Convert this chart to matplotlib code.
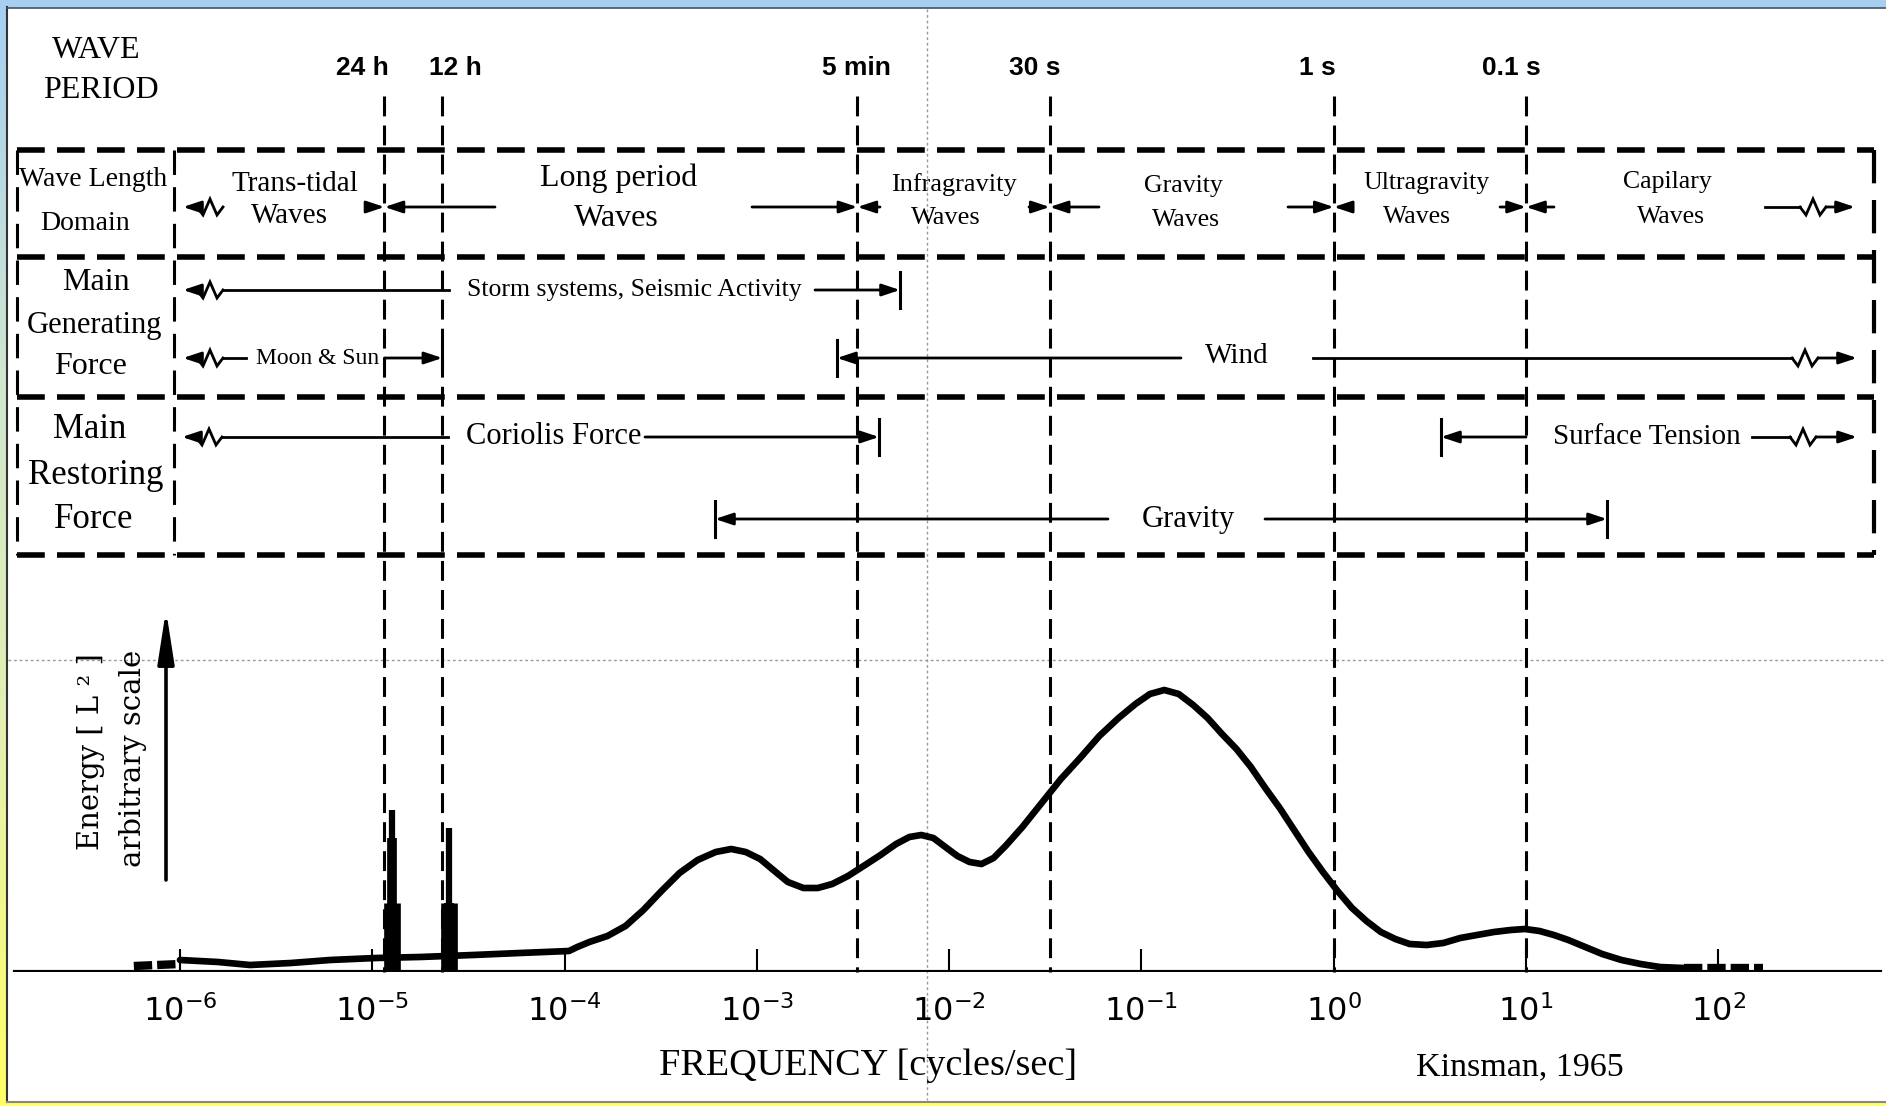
import numpy as np
import matplotlib.pyplot as plt
from matplotlib.patches import Rectangle
from matplotlib.colors import LinearSegmentedColormap

W, H = 1886, 1106
SERIF = 'Liberation Serif'

# period markers drawn as dashed verticals
period_labels = ['24 h', '12 h', '5 min', '30 s', '1 s', '0.1 s']
period_seconds = [86400, 43200, 300, 30, 1, 0.1]
period_label_x = [362, 455, 856, 1035, 1317, 1511]

# decades on the frequency axis
decades = [-6, -5, -4, -3, -2, -1, 0, 1, 2]

# energy spectrum (Kinsman, 1965), log10 frequency [Hz] vs energy (arbitrary)
spec_logf = [-6.000, -5.802, -5.636, -5.423, -5.220, -4.981, -4.752, -4.476,
             -4.232, -3.977, -3.934, -3.871, -3.777, -3.683, -3.590, -3.496,
             -3.402, -3.308, -3.214, -3.133, -3.058, -2.983, -2.902, -2.839,
             -2.758, -2.683, -2.608, -2.526, -2.445, -2.357, -2.276, -2.207,
             -2.145, -2.082, -2.020, -1.957, -1.894, -1.832, -1.769, -1.707,
             -1.619, -1.519, -1.419, -1.319, -1.219, -1.119, -1.031, -0.956,
             -0.881, -0.806, -0.731, -0.656, -0.581, -0.506, -0.431, -0.356,
             -0.281, -0.206, -0.131, -0.056, 0.020, 0.095, 0.170, 0.245,
             0.320, 0.395, 0.483, 0.570, 0.658, 0.745, 0.833, 0.920,
             0.995, 1.070, 1.145, 1.220, 1.308, 1.396, 1.496, 1.596,
             1.696, 1.821]
spec_energy = [12, 10, 7, 9, 12, 14, 15, 17,
               19, 21, 25, 30, 36, 46, 62, 81,
               99, 112, 120, 123, 120, 113, 100, 90,
               84, 84, 88, 96, 106, 117, 128, 135,
               137, 134, 125, 116, 110, 108, 114, 126,
               145, 169, 193, 214, 236, 254, 268, 278,
               282, 278, 267, 254, 238, 223, 205, 184,
               164, 142, 120, 100, 81, 64, 51, 40,
               33, 28, 27, 29, 34, 37, 40, 42,
               43, 41, 37, 32, 25, 18, 12, 8,
               5, 4]
# dashed ends of the spectrum
head_logf = [-6.24, -6.0]
head_energy = [6, 8]
tail_logf = [1.821, 2.23]
tail_energy = [4, 4]

# tidal lines (diurnal, semidiurnal)
tide_logf = [-4.90, -4.60]
tide_block = [69, 69]
tide_mid = [134, 69]
tide_top = [162, 144]

fig = plt.figure(figsize=(W / 100, H / 100), dpi=100)
fig.patch.set_facecolor('white')

# pixel layer for layout
bg = fig.add_axes([0, 0, 1, 1])
bg.set_xlim(0, W)
bg.set_ylim(H, 0)
bg.axis('off')

# frequency layer, rows in pixels
ax = fig.add_axes([0, 0, 1, 1])
ax.set_xscale('log')
ax.set_xlim(10 ** -6.936, 10 ** 2.872)
ax.set_ylim(H, 0)
ax.axis('off')
ax.patch.set_alpha(0)

# spectrum layer, baseline at pixel row 972
ax2 = fig.add_axes([0, (H - 972) / H, 1, 300 / H])
ax2.set_xscale('log')
ax2.set_xlim(10 ** -6.936, 10 ** 2.872)
ax2.set_ylim(0, 300)
ax2.axis('off')
ax2.patch.set_alpha(0)


def px(f):
    return ax.transData.transform((f, 1.0))[0]


# frame decoration
grad = np.linspace(0, 1, 200)[:, None]
cm = LinearSegmentedColormap.from_list('side', ['#a6cff2', '#cfe6d0', '#e4f0b0', '#ffff66'])
bg.imshow(grad, cmap=cm, extent=(0, 7, H, 0), aspect='auto', zorder=0)
bg.add_patch(Rectangle((0, 0), W, 7, color='#a6cff2', zorder=0))
bg.add_patch(Rectangle((0, 1103), W, 3, color='#ffff66', zorder=0))
bg.plot([7, 7], [7, 1102], color='#333333', lw=1.5)
bg.plot([7, W], [7.5, 7.5], color='#445566', lw=1.2)
bg.plot([7, W], [1102, 1102], color='#888888', lw=1.5)

# guide lines
bg.plot([8, W], [660, 660], color='#999999', lw=1, ls=(0, (2, 2)), zorder=0)
bg.plot([927, 927], [9, 1100], color='#999999', lw=1, ls=(0, (2, 2)), zorder=0)

# dashed table
for yy in [150, 257, 397, 555]:
    bg.plot([17, 1874], [yy, yy], color='k', lw=4, ls=(0, (5, 2.2)))
for xx, lw in [(17, 2.2), (174, 2.2), (1874, 3)]:
    bg.plot([xx, xx], [150, 555], color='k', lw=lw, ls=(0, (8, 4)))

# period lines
for s in period_seconds:
    ax.plot([1 / s, 1 / s], [96, 972], color='k', lw=2.2, ls=(0, (6.5, 3)))

for lab, x in zip(period_labels, period_label_x):
    bg.text(x, 68, lab, ha='center', va='center', fontsize=19,
            fontweight='bold', family='Liberation Sans')


def txt(x, y, s, size):
    bg.text(x, y, s, ha='center', va='center', fontsize=size, family=SERIF)


txt(96, 50, 'WAVE', 23)
txt(101, 90, 'PERIOD', 23)
txt(93, 180, 'Wave Length', 20)
txt(85, 223, 'Domain', 20)
txt(96, 283, 'Main', 23)
txt(95, 325, 'Generating', 22)
txt(91, 366, 'Force', 23)
txt(90, 430, 'Main', 25)
txt(96, 476, 'Restoring', 25)
txt(94, 520, 'Force', 25)

txt(295, 184, 'Trans-tidal', 21)
txt(289, 216, 'Waves', 21)
txt(619, 178, 'Long period', 23)
txt(616, 218, 'Waves', 23)
txt(954, 185, 'Infragravity', 19)
txt(946, 218, 'Waves', 19)
txt(1183, 186, 'Gravity', 18.5)
txt(1186, 220, 'Waves', 18.5)
txt(1426, 183, 'Ultragravity', 18.5)
txt(1417, 217, 'Waves', 18.5)
txt(1667, 182, 'Capilary', 18.5)
txt(1671, 217, 'Waves', 18.5)

txt(634, 290, 'Storm systems, Seismic Activity', 18.5)
txt(318, 358, 'Moon & Sun', 17)
txt(1237, 356, 'Wind', 21)
txt(554, 437, 'Coriolis Force', 22)
txt(1188, 519, 'Gravity', 22)
txt(1647, 437, 'Surface Tension', 21)


def arrow(x0, x1, y):
    bg.annotate('', xy=(x1, y), xytext=(x0, y),
                arrowprops=dict(arrowstyle='-|>,head_length=0.9,head_width=0.3',
                                lw=2, color='k', shrinkA=0, shrinkB=0,
                                mutation_scale=12))


def line(x0, x1, y):
    bg.plot([x0, x1], [y, y], color='k', lw=2)


def bar(x, y, h=18):
    bg.plot([x, x], [y - h, y + h], color='k', lw=2.2)


def zig(x0, y, sign=1):
    dx = np.array([0, 6, 13, 20, 26])
    dy = np.array([0, 8, -8, 8, 0])
    bg.plot(x0 + sign * dx, y + dy, color='k', lw=2, solid_joinstyle='miter')


def zig_left(tip, y, tail=None):
    arrow(tip + 15, tip, y)
    zig(tip + 14, y)
    if tail is not None:
        line(tip + 40, tail, y)


def zig_right(start, zx, tip, y):
    line(start, zx, y)
    zig(zx, y)
    arrow(zx + 26, tip, y)


p = {s: px(1 / s) for s in period_seconds}

# wave length domain
y1 = 207
zig_left(183, y1)
for s, tl, tr in [(86400, 370, 495), (300, 752, 880), (30, 1029, 1099),
                  (1, 1288, 1352), (0.1, 1500, 1554)]:
    arrow(tl, p[s], y1)
    arrow(tr, p[s], y1)
zig_right(1765, 1800, 1855, y1)

# generating force
zig_left(183, 290, 449)
arrow(815, 900, 290)
bar(900, 290)
zig_left(183, 358, 246)
arrow(p[86400], p[43200], 358)
bar(p[43200], 358, 12)
bar(837, 358)
arrow(1181, 837, 358)
zig_right(1313, 1792, 1857, 358)

# restoring force
zig_left(182, 437, 448)
arrow(645, 879, 437)
bar(879, 437)
bar(715, 519)
arrow(1108, 715, 519)
arrow(1265, 1607, 519)
bar(1607, 519)
bar(1441, 437)
arrow(1526, 1441, 437)
zig_right(1752, 1790, 1857, 437)

# spectrum
f = 10.0 ** np.array(spec_logf)
ax2.plot([10 ** -6.86, 10 ** 2.84], [0, 0], color='k', lw=3)
ax2.vlines(10.0 ** np.array(decades), 0, 23, color='k', lw=1.5)
ax2.plot(f, spec_energy, color='k', lw=4.8, solid_joinstyle='round', solid_capstyle='round')
ax2.plot(10.0 ** np.array(head_logf), head_energy, color='k', lw=6, ls=(0, (2.2, 0.6)))
ax2.plot(10.0 ** np.array(tail_logf), tail_energy, color='k', lw=6, ls=(0, (2.2, 0.6)))
tf = 10.0 ** np.array(tide_logf)
ax2.vlines(tf, 0, tide_block, color='k', lw=12)
ax2.vlines(tf, 0, tide_mid, color='k', lw=7)
ax2.vlines(tf, 0, tide_top, color='k', lw=4.5)

for k in decades:
    ax.text(10.0 ** k, 1012, '$10^{%d}$' % k, ha='center', va='center', fontsize=23)

txt(868, 1066, 'FREQUENCY [cycles/sec]', 27.5)
txt(1520, 1067, 'Kinsman, 1965', 24.5)

# energy axis
bg.annotate('', xy=(166, 610), xytext=(166, 880),
            arrowprops=dict(arrowstyle='-|>,head_length=1.6,head_width=0.25',
                            lw=2.6, color='k', shrinkA=0, shrinkB=0,
                            mutation_scale=20))
bg.text(91, 752, 'Energy [ L ² ]', rotation=90, ha='center', va='center',
        fontsize=21, family='DejaVu Serif')
bg.text(133, 758, 'arbitrary scale', rotation=90, ha='center', va='center',
        fontsize=21, family='DejaVu Serif')

fig.savefig('out.png', dpi=100)
